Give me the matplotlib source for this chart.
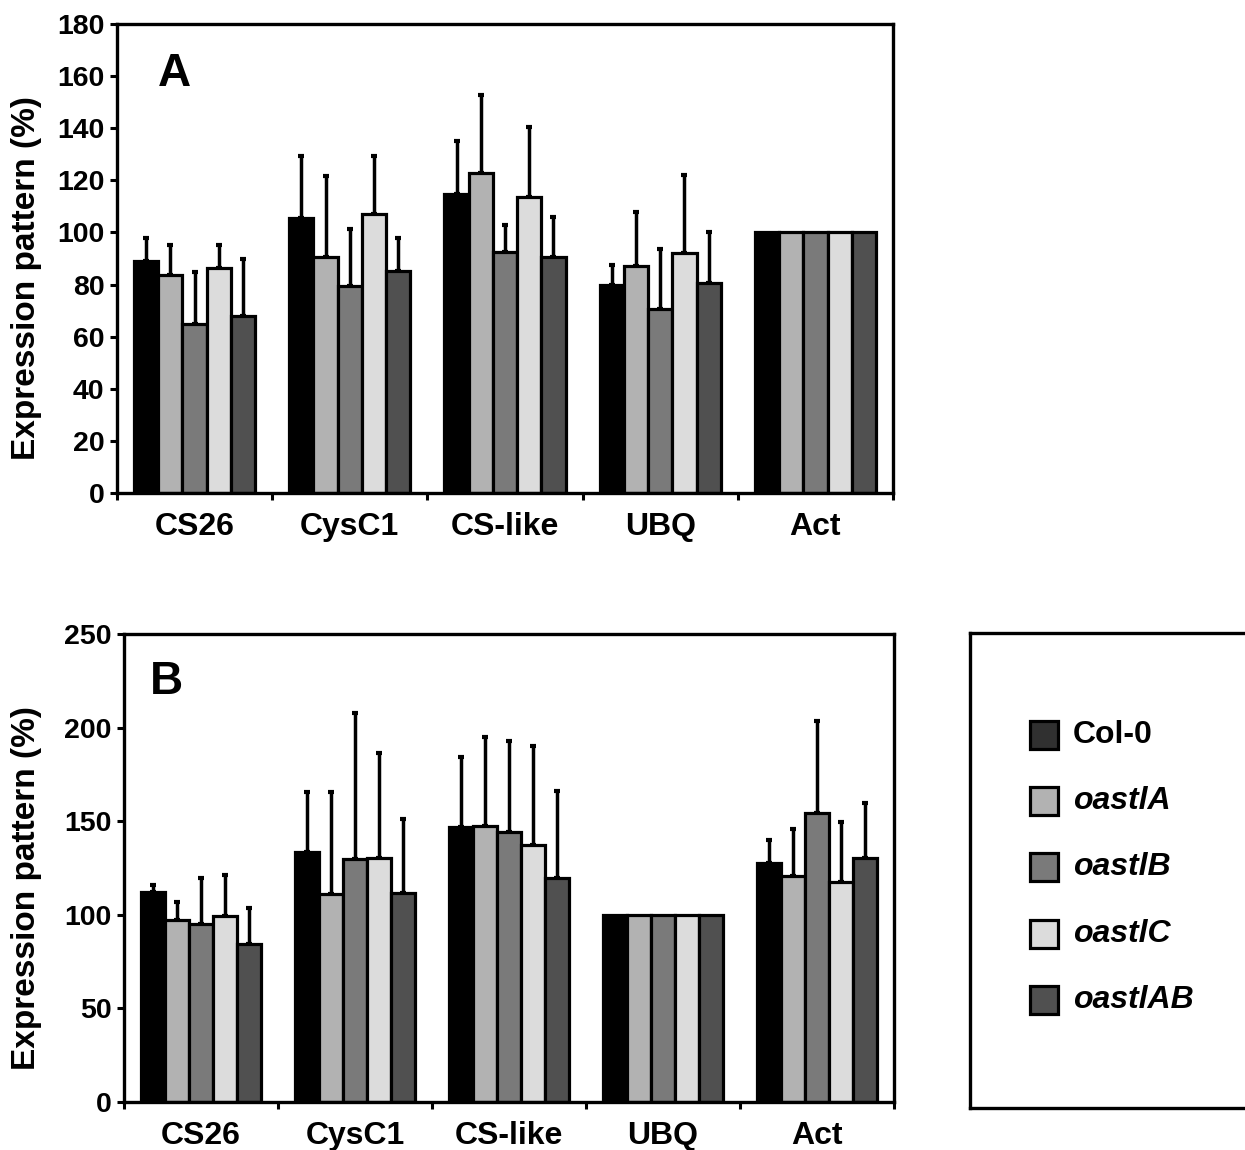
import numpy as np
import matplotlib.pyplot as plt
from matplotlib.patches import Rectangle

plt.rcParams['font.family'] = ['Liberation Sans', 'DejaVu Sans']
plt.rcParams['font.weight'] = 'bold'

# categorias e linhas
genes = ["CS26", "CysC1", "CS-like", "UBQ", "Act"]
lines = ["Col-0", "oastlA", "oastlB", "oastlC", "oastlAB"]
colors = ["#000000", "#b2b2b2", "#7a7a7a", "#dcdcdc", "#505050"]
legend_colors = ["#303030", "#b2b2b2", "#7a7a7a", "#dcdcdc", "#505050"]

# painel A: medias (linhas = genotipos, colunas = genes)
meanA = np.array([
    [89.1, 105.4, 114.6, 79.8, 100],
    [83.6, 90.7, 122.7, 87.2, 100],
    [64.8, 79.6, 92.4, 70.6, 100],
    [86.2, 106.9, 113.7, 92.0, 100],
    [67.9, 85.3, 90.4, 80.5, 100],
])
topA = np.array([
    [97.7, 129.4, 135.2, 87.5, 100],
    [95.2, 121.8, 152.7, 107.7, 100],
    [84.9, 101.3, 102.8, 93.6, 100],
    [95.2, 129.4, 140.3, 122.0, 100],
    [90.0, 97.7, 105.8, 100.0, 100],
])

# painel B
meanB = np.array([
    [112.3, 133.7, 146.8, 100, 127.6],
    [97.3, 111.0, 147.6, 100, 120.5],
    [95.0, 129.8, 144.1, 100, 154.4],
    [99.4, 130.2, 137.3, 100, 117.3],
    [84.6, 111.9, 119.6, 100, 130.2],
])
topB = np.array([
    [115.9, 165.5, 184.2, 100, 140.1],
    [106.9, 165.5, 195.0, 100, 145.8],
    [119.4, 207.8, 192.8, 100, 203.3],
    [121.2, 186.4, 190.1, 100, 149.8],
    [103.4, 151.2, 166.0, 100, 159.8],
])

W, H = 1245, 1150
fig = plt.figure(figsize=(W / 100, H / 100), dpi=100)


def px_axes(x0, y0, x1, y1):
    return fig.add_axes([x0 / W, 1 - y1 / H, (x1 - x0) / W, (y1 - y0) / H])


def panel(ax, mean, top, ymax, ystep, letter, lx, ly):
    x = np.arange(len(genes))
    bw = 0.156
    for i in range(len(lines)):
        xs = x + (i - 2) * bw
        err = top[i] - mean[i]
        ax.bar(xs, mean[i], width=bw, color=colors[i], edgecolor="black",
               linewidth=2.3, zorder=2)
        m = err > 0
        ax.errorbar(xs[m], mean[i][m], yerr=[np.zeros(m.sum()), err[m]],
                    fmt="none", ecolor="black", elinewidth=2.5,
                    capsize=2.2, capthick=3, zorder=1)
    ax.set_xlim(-0.5, len(genes) - 0.5)
    ax.set_ylim(0, ymax)
    ax.set_yticks(np.arange(0, ymax + 1, ystep))
    ax.set_xticks(x)
    ax.set_xticklabels(genes, fontsize=23, fontweight="bold")
    ax.set_xticks(np.arange(-0.5, len(genes)), minor=True)
    ax.tick_params(axis="x", which="major", length=0, pad=14)
    ax.tick_params(axis="x", which="minor", length=5, width=2.2, direction="out")
    ax.tick_params(axis="y", length=5, width=2.2, labelsize=20.5, pad=4)
    for lab in ax.get_yticklabels():
        lab.set_fontweight("bold")
    for s in ax.spines.values():
        s.set_linewidth(2.4)
    ax.set_ylabel("Expression pattern (%)", fontsize=24, fontweight="bold")
    ax.text(lx, ly, letter, transform=ax.transAxes, fontsize=33,
            fontweight="bold", va="top", ha="left")


axA = px_axes(117, 24, 893, 493)
panel(axA, meanA, topA, 180, 20, "A", 0.053, 0.94)
axA.yaxis.set_label_coords(-0.097, 0.458)

axB = px_axes(124, 634, 894, 1102)
panel(axB, meanB, topB, 250, 50, "B", 0.034, 0.945)
axB.yaxis.set_label_coords(-0.107, 0.457)

# legenda
axL = px_axes(970, 633, 1300, 1108)
axL.set_xlim(970, 1300)
axL.set_ylim(1108, 633)
axL.set_xticks([])
axL.set_yticks([])
for s in axL.spines.values():
    s.set_linewidth(2.4)
for i, name in enumerate(lines):
    yc = 735 + i * 66.2
    axL.add_patch(Rectangle((1030, yc - 14), 28, 28, facecolor=legend_colors[i],
                            edgecolor="black", linewidth=2.3))
    axL.text(1073, yc, name, fontsize=23, fontweight="bold",
             style="normal" if i == 0 else "italic", va="center", ha="left")

fig.savefig("out.png", dpi=100)
